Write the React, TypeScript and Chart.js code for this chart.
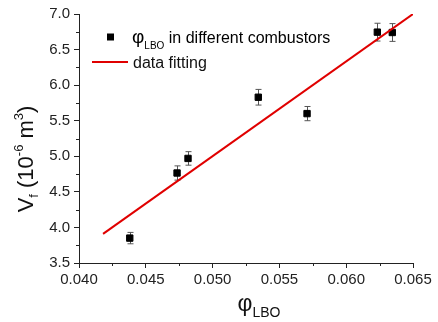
import React, { useEffect, useRef } from 'react';
import { Chart, registerables } from 'chart.js';

Chart.register(...registerables);

// ---- data ----
const phiLBO = [0.0438, 0.04734, 0.04816, 0.05342, 0.05707, 0.06233, 0.06345];
const vf = [3.85, 4.765, 4.97, 5.83, 5.6, 6.745, 6.74];
const vfErr = [0.08, 0.1, 0.095, 0.11, 0.1, 0.125, 0.125];
const fitX = [0.0418, 0.065];
const fitY = [3.91, 7.0];
const xRange = [0.04, 0.065];
const yRange = [3.5, 7.0];
const xStep = 0.005;
const yStep = 0.5;

const FONT = "'Liberation Sans', Arial, sans-serif";
const AXIS = '#222';

type Seg = { t: string; size: number; dy: number };

function drawSegs(ctx: CanvasRenderingContext2D, segs: Seg[], x: number, y: number, align: 'left' | 'center') {
  let total = 0;
  for (const s of segs) {
    ctx.font = `${s.size}px ${FONT}`;
    total += ctx.measureText(s.t).width;
  }
  let cx = align === 'center' ? x - total / 2 : x;
  ctx.textAlign = 'left';
  ctx.textBaseline = 'alphabetic';
  for (const s of segs) {
    ctx.font = `${s.size}px ${FONT}`;
    ctx.fillText(s.t, cx, y + s.dy);
    cx += ctx.measureText(s.t).width;
  }
}

const decorPlugin = {
  id: 'decor',
  beforeDatasetsDraw(chart: any) {
    const ctx = chart.ctx as CanvasRenderingContext2D;
    const xs = chart.scales.x;
    const ys = chart.scales.y;
    ctx.save();
    ctx.strokeStyle = '#555';
    ctx.lineWidth = 1;
    for (let i = 0; i < phiLBO.length; i++) {
      const px = Math.round(xs.getPixelForValue(phiLBO[i])) + 0.5;
      const top = ys.getPixelForValue(vf[i] + vfErr[i]);
      const bot = ys.getPixelForValue(vf[i] - vfErr[i]);
      ctx.beginPath();
      ctx.moveTo(px, top);
      ctx.lineTo(px, bot);
      ctx.moveTo(px - 3, top);
      ctx.lineTo(px + 3, top);
      ctx.moveTo(px - 3, bot);
      ctx.lineTo(px + 3, bot);
      ctx.stroke();
    }
    ctx.restore();
  },
  afterDraw(chart: any) {
    const ctx = chart.ctx as CanvasRenderingContext2D;
    const xs = chart.scales.x;
    const ys = chart.scales.y;
    const area = chart.chartArea;
    ctx.save();
    // minor ticks
    ctx.strokeStyle = AXIS;
    ctx.lineWidth = 1;
    ctx.beginPath();
    for (let v = xRange[0] + xStep / 2; v < xRange[1]; v += xStep) {
      const px = Math.round(xs.getPixelForValue(v)) + 0.5;
      ctx.moveTo(px, area.bottom);
      ctx.lineTo(px, area.bottom + 3);
    }
    for (let v = yRange[0] + yStep / 2; v < yRange[1]; v += yStep) {
      const py = Math.round(ys.getPixelForValue(v)) + 0.5;
      ctx.moveTo(area.left, py);
      ctx.lineTo(area.left - 3, py);
    }
    ctx.stroke();

    ctx.fillStyle = '#111';
    // x title
    drawSegs(
      ctx,
      [
        { t: 'φ', size: 23, dy: 0 },
        { t: 'LBO', size: 14, dy: 6 },
      ],
      259,
      311,
      'center'
    );
    // y title
    ctx.save();
    ctx.translate(33, 159);
    ctx.rotate(-Math.PI / 2);
    drawSegs(
      ctx,
      [
        { t: 'V', size: 22, dy: 0 },
        { t: 'f', size: 13, dy: 5 },
        { t: ' (10', size: 22, dy: 0 },
        { t: '-6', size: 13, dy: -10 },
        { t: ' m', size: 22, dy: 0 },
        { t: '3', size: 13, dy: -10 },
        { t: ')', size: 22, dy: 0 },
      ],
      0,
      0,
      'center'
    );
    ctx.restore();

    // legend
    ctx.fillStyle = '#000';
    ctx.fillRect(107, 33.5, 7, 7);
    drawSegs(
      ctx,
      [
        { t: 'φ', size: 19, dy: 0 },
        { t: 'LBO', size: 10, dy: 6 },
        { t: ' in different combustors', size: 16, dy: 0 },
      ],
      132,
      43,
      'left'
    );
    ctx.strokeStyle = '#e00000';
    ctx.lineWidth = 2;
    ctx.beginPath();
    ctx.moveTo(92, 62);
    ctx.lineTo(128, 62);
    ctx.stroke();
    ctx.fillStyle = '#111';
    drawSegs(ctx, [{ t: 'data fitting', size: 16, dy: 0 }], 133, 68, 'left');
    ctx.restore();
  },
};

export default function App() {
  const ref = useRef<HTMLCanvasElement | null>(null);
  useEffect(() => {
    if (!ref.current) return;
    const chart = new Chart(ref.current, {
      type: 'scatter',
      data: {
        datasets: [
          {
            type: 'line',
            label: 'data fitting',
            data: fitX.map((x, i) => ({ x, y: fitY[i] })),
            borderColor: '#e00000',
            borderWidth: 2,
            pointRadius: 0,
            fill: false,
          } as any,
          {
            label: 'φLBO in different combustors',
            data: phiLBO.map((x, i) => ({ x, y: vf[i] })),
            pointStyle: 'rect',
            pointRadius: 4.5,
            backgroundColor: '#000',
            borderColor: '#000',
            borderWidth: 1,
          },
        ],
      },
      options: {
        responsive: false,
        animation: false,
        devicePixelRatio: 1,
        layout: { padding: { top: 14, right: 25, left: 0, bottom: 0 } },
        plugins: { legend: { display: false }, tooltip: { enabled: false } },
        scales: {
          x: {
            type: 'linear',
            min: xRange[0],
            max: xRange[1],
            afterFit: (s: any) => {
              s.height = 59;
            },
            ticks: {
              stepSize: xStep,
              color: AXIS,
              font: { family: FONT, size: 15 },
              padding: 3,
              maxRotation: 0,
              callback: (v: any) => Number(v).toFixed(3),
            },
            grid: { display: true, drawOnChartArea: false, drawTicks: true, tickLength: 5, color: AXIS },
            border: { display: true, color: AXIS, width: 1 },
          },
          y: {
            type: 'linear',
            min: yRange[0],
            max: yRange[1],
            afterFit: (s: any) => {
              s.width = 79;
            },
            ticks: {
              stepSize: yStep,
              color: AXIS,
              font: { family: FONT, size: 15 },
              padding: 4,
              callback: (v: any) => Number(v).toFixed(1),
            },
            grid: { display: true, drawOnChartArea: false, drawTicks: true, tickLength: 5, color: AXIS },
            border: { display: true, color: AXIS, width: 1 },
          },
        },
      },
      plugins: [decorPlugin],
    });
    return () => chart.destroy();
  }, []);
  return (
    <div style={{ position: 'fixed', left: 0, top: 0, width: 438, height: 322, background: '#fff' }}>
      <canvas ref={ref} width={438} height={322} style={{ width: 438, height: 322, display: 'block' }} />
    </div>
  );
}
